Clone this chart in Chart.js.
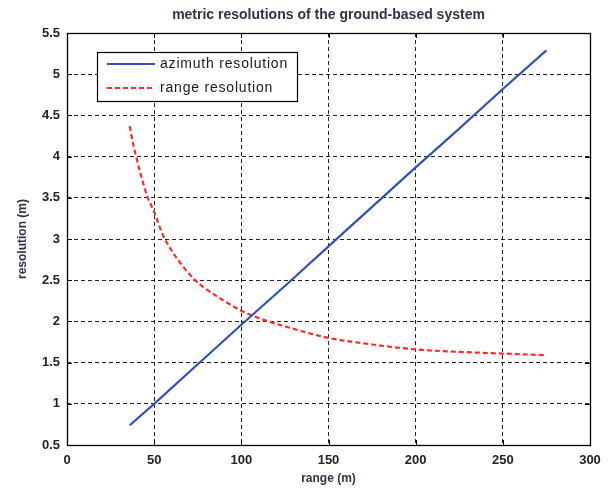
<!DOCTYPE html>
<html>
<head>
<meta charset="utf-8">
<script src="https://cdn.jsdelivr.net/npm/chart.js@4/dist/chart.umd.min.js"></script>
<style>
  html, body { margin: 0; padding: 0; background: #fff; }
  #wrap { width: 611px; height: 491px; position: relative; }
</style>
</head>
<body>
<div id="wrap"><canvas id="c" width="611" height="491"></canvas></div>
<script>
// ---- data ----
const chartTitle = "metric resolutions of the ground-based system";
const xTitle = "range (m)";
const yTitle = "resolution (m)";
const seriesNames = ["azimuth resolution", "range resolution"];

const azimuthRanges = [36, 50, 75, 100, 125, 150, 175, 200, 225, 250, 275];
const azimuthValues = [0.74, 1.0, 1.48, 1.96, 2.43, 2.91, 3.39, 3.87, 4.34, 4.82, 5.29];

const rangeResRanges = [36, 38, 40, 43, 46, 50, 55, 60, 65, 73, 80, 90, 100, 110, 125, 150, 175, 200, 225, 250, 275];
const rangeResValues = [4.37, 4.15, 3.97, 3.73, 3.52, 3.33, 3.05, 2.86, 2.71, 2.51, 2.39, 2.25, 2.13, 2.04, 1.94, 1.80, 1.72, 1.66, 1.63, 1.61, 1.59];

const xTicks = [0, 50, 100, 150, 200, 250, 300];
const yTicks = [0.5, 1, 1.5, 2, 2.5, 3, 3.5, 4, 4.5, 5, 5.5];

const colors = ["#3352b0", "#ff2a2a"];

const toPoints = (xs, ys) => xs.map((x, i) => ({ x: x, y: ys[i] }));

// ---- plugins ----
const framePlugin = {
  id: 'frame',
  beforeDatasetsDraw(chart) {
    const { ctx, chartArea: a, scales } = chart;
    ctx.save();
    ctx.strokeStyle = '#000';
    ctx.lineWidth = 1;
    ctx.setLineDash([]);
    const tl = 5;
    ctx.beginPath();
    xTicks.forEach(v => {
      const px = Math.round(scales.x.getPixelForValue(v)) + 0.5;
      ctx.moveTo(px, a.bottom); ctx.lineTo(px, a.bottom - tl);
      ctx.moveTo(px, a.top); ctx.lineTo(px, a.top + tl);
    });
    yTicks.forEach(v => {
      const py = Math.round(scales.y.getPixelForValue(v)) + 0.5;
      ctx.moveTo(a.left, py); ctx.lineTo(a.left + tl, py);
      ctx.moveTo(a.right, py); ctx.lineTo(a.right - tl, py);
    });
    ctx.stroke();
    ctx.lineWidth = 1.3;
    ctx.strokeRect(Math.round(a.left) + 0.5, Math.round(a.top) + 0.5,
                   Math.round(a.right - a.left), Math.round(a.bottom - a.top));
    ctx.restore();
  }
};

const titlePlugin = {
  id: 'plotTitle',
  afterDraw(chart) {
    const { ctx, chartArea: a } = chart;
    ctx.save();
    ctx.fillStyle = '#3b2d48';
    ctx.font = 'bold 14px "Liberation Sans", Arial, sans-serif';
    ctx.textAlign = 'center';
    ctx.textBaseline = 'middle';
    ctx.fillText(chartTitle, (a.left + a.right) / 2, 15);
    ctx.restore();
  }
};

const legendPlugin = {
  id: 'boxLegend',
  afterDatasetsDraw(chart) {
    const { ctx } = chart;
    const bx = 97, by = 52, bw = 200, bh = 49;
    ctx.save();
    ctx.fillStyle = '#fff';
    ctx.fillRect(bx, by, bw, bh);
    ctx.strokeStyle = '#000';
    ctx.lineWidth = 1.2;
    ctx.setLineDash([]);
    ctx.strokeRect(bx + 0.5, by + 0.5, bw, bh);
    chart.data.datasets.forEach((ds, i) => {
      const yy = by + 12 + i * 24;
      ctx.strokeStyle = ds.borderColor;
      ctx.lineWidth = 2;
      ctx.setLineDash(ds.borderDash || []);
      ctx.beginPath();
      ctx.moveTo(bx + 10, yy); ctx.lineTo(bx + 58, yy);
      ctx.stroke();
      ctx.setLineDash([]);
      ctx.fillStyle = '#1a1a1a';
      ctx.font = '14px "Liberation Sans", Arial, sans-serif';
      try { ctx.letterSpacing = '0.8px'; } catch (e) {}
      ctx.textAlign = 'left';
      ctx.textBaseline = 'middle';
      ctx.fillText(ds.label, bx + 63, yy);
    });
    ctx.restore();
  }
};

const tickFont = { family: '"Liberation Sans", Arial, sans-serif', size: 13, weight: 'bold' };

new Chart(document.getElementById('c'), {
  type: 'line',
  data: {
    datasets: [
      {
        label: seriesNames[0],
        data: toPoints(azimuthRanges, azimuthValues),
        borderColor: colors[0],
        borderWidth: 2.2,
        pointRadius: 0,
        fill: false
      },
      {
        label: seriesNames[1],
        data: toPoints(rangeResRanges, rangeResValues),
        borderColor: colors[1],
        borderWidth: 2.2,
        borderDash: [5, 3],
        pointRadius: 0,
        cubicInterpolationMode: 'monotone',
        fill: false
      }
    ]
  },
  options: {
    responsive: false,
    animation: false,
    devicePixelRatio: 1,
    layout: { padding: { top: 33, right: 21, bottom: 0, left: 0 } },
    plugins: {
      legend: { display: false },
      tooltip: { enabled: false },
      title: { display: false }
    },
    scales: {
      x: {
        type: 'linear',
        min: xTicks[0],
        max: xTicks[xTicks.length - 1],
        afterBuildTicks: s => { s.ticks = xTicks.map(v => ({ value: v })); },
        afterFit: s => { s.height = 46; },
        ticks: { color: '#222', font: tickFont, padding: 8, maxRotation: 0, autoSkip: false,
                 callback: v => String(v) },
        grid: { color: '#222', lineWidth: 1, drawTicks: false },
        border: { display: false, dash: [4, 3] },
        title: {
          display: true, text: xTitle, color: '#3b2d48',
          font: { family: '"Liberation Sans", Arial, sans-serif', size: 12, weight: 'bold' },
          padding: { top: 0, bottom: 5 }
        }
      },
      y: {
        type: 'linear',
        min: yTicks[0],
        max: yTicks[yTicks.length - 1],
        afterBuildTicks: s => { s.ticks = yTicks.map(v => ({ value: v })); },
        afterFit: s => { s.width = 67; },
        ticks: { color: '#222', font: tickFont, padding: 7, autoSkip: false,
                 callback: v => String(v) },
        grid: { color: '#222', lineWidth: 1, drawTicks: false },
        border: { display: false, dash: [4, 3] },
        title: {
          display: true, text: yTitle, color: '#3b2d48',
          font: { family: '"Liberation Sans", Arial, sans-serif', size: 12, weight: 'bold' },
          padding: { top: 15, bottom: 0 }
        }
      }
    }
  },
  plugins: [framePlugin, legendPlugin, titlePlugin]
});
</script>
</body>
</html>
